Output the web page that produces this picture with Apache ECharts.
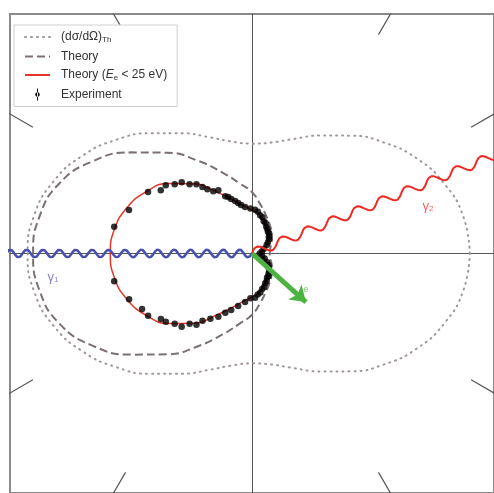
<!DOCTYPE html>
<html><head><meta charset="utf-8">
<script src="https://cdn.jsdelivr.net/npm/echarts@6/dist/echarts.min.js"></script>
<style>html,body{margin:0;padding:0;background:#fff}#c{width:494px;height:493px}</style>
</head><body><div id="c"></div>
<script>
// polar angles (deg) at which the curves are read (upper half; curves are mirror-symmetric)
const curveAngles = [0, 10, 20, 30, 40, 50, 60, 70, 80, 90, 100, 110, 120, 130, 140, 150, 160, 170, 180];
const thomsonR = [0.99, 0.975, 0.93, 0.865, 0.785, 0.70, 0.62, 0.555, 0.513, 0.5, 0.517, 0.563, 0.632, 0.715, 0.805, 0.89, 0.96, 1.005, 1.02];
const theoryR  = [0.081, 0.083, 0.09, 0.104, 0.119, 0.137, 0.158, 0.185, 0.225, 0.279, 0.324, 0.392, 0.486, 0.599, 0.716, 0.838, 0.932, 0.98, 0.995];
const lowER    = [0.032, 0.038, 0.054, 0.074, 0.095, 0.113, 0.131, 0.153, 0.18, 0.198, 0.221, 0.261, 0.324, 0.414, 0.495, 0.559, 0.606, 0.635, 0.644];

// experimental points (angle deg, radius)
const expAngle = [169, 160.5, 149.4, 145.2, 141.6, 138.1, 134.6, 132, 128.7, 126.7, 124.7, 121.8, 118, 115, 112.8, 110.9, 107.8, 105.4, 102.7, 98.5,
  92, 86, 82, 78, 74, 70, 66, 62, 58, 54, 50, 45, 40, 35, 30, 22, 12, 0, -12, -22, -30, -35, -40, -45, -50, -54, -58, -62, -66, -70, -74, -78, -82, -86, -92,
  191.4, 200.4, 206.8, 211, 215.7, 218.4, 222.3, 226.2, 228.4, 232.1, 233.7, 237.5, 242, 245.8, 249.8, 255.2, 261.9];
const expR = [0.638, 0.593, 0.549, 0.505, 0.5, 0.472, 0.455, 0.424, 0.404, 0.377, 0.356, 0.334, 0.326, 0.288, 0.279, 0.265, 0.251, 0.238, 0.226, 0.214,
  0.205, 0.2, 0.192, 0.178, 0.172, 0.156, 0.152, 0.138, 0.132, 0.123, 0.121, 0.108, 0.101, 0.088, 0.077, 0.058, 0.046, 0.035, 0.047, 0.062, 0.079, 0.092, 0.099, 0.112, 0.118, 0.127, 0.129, 0.142, 0.148, 0.162, 0.168, 0.182, 0.188, 0.202, 0.204,
  0.639, 0.596, 0.56, 0.551, 0.51, 0.5, 0.475, 0.462, 0.427, 0.411, 0.38, 0.352, 0.326, 0.296, 0.274, 0.247, 0.223];

const tickAngles = [30, 60, 120, 150, 210, 240, 300, 330];
const photonIn = {angle: 180, length: 1.2, wavelength: 0.0745, amplitude: 0.018};
const photonOut = {angle: 22, length: 1.3, wavelength: 0.122, amplitude: 0.021};
const electron = {angle: -42, length: 0.33};
const labelPos = {g1: [-0.905, -0.108], g2: [0.80, 0.216], e: [0.245, -0.165]};

const rad = d => d * Math.PI / 180;
const xy = (a, r) => [r * Math.cos(rad(a)), r * Math.sin(rad(a))];
function closedCurve(rs) {
  const pts = [];
  for (let i = 0; i < curveAngles.length; i++) pts.push(xy(curveAngles[i], rs[i]));
  for (let i = curveAngles.length - 2; i >= 0; i--) pts.push(xy(360 - curveAngles[i], rs[i]));
  return pts;
}
function wave(p) {
  const pts = [], c = Math.cos(rad(p.angle)), s = Math.sin(rad(p.angle));
  const n = Math.ceil(p.length / p.wavelength * 24);
  for (let i = 0; i <= n; i++) {
    const t = p.length * i / n;
    const off = p.amplitude * Math.sin(2 * Math.PI * t / p.wavelength);
    pts.push([t * c - off * s, t * s + off * c]);
  }
  return pts;
}
const expData = expAngle.map((a, i) => xy(a, expR[i]));
const tickData = tickAngles.map(a => ({coords: [xy(a, 1.15), xy(a, 1.4)]}));

const chart = echarts.init(document.getElementById('c'), null, {renderer: 'canvas'});
const FONT = 'Liberation Sans, Arial, sans-serif';
chart.setOption({
  animation: false,
  backgroundColor: '#fff',
  grid: {left: 10, top: 14, width: 488, height: 484, show: true, borderColor: '#8a8a8a', borderWidth: 2, backgroundColor: 'transparent'},
  xAxis: {type: 'value', min: -1.1, max: 1.1, axisLine: {onZero: true, lineStyle: {color: '#555', width: 1}},
    axisTick: {show: false}, axisLabel: {show: false}, splitLine: {show: false}},
  yAxis: {type: 'value', min: -1.09, max: 1.09, axisLine: {onZero: true, lineStyle: {color: '#555', width: 1}},
    axisTick: {show: false}, axisLabel: {show: false}, splitLine: {show: false}},
  legend: {
    orient: 'vertical', left: 14, top: 25, backgroundColor: '#fff', borderColor: '#d0d0d0', borderWidth: 1,
    padding: [6, 10, 6, 10], itemWidth: 25, itemHeight: 12, itemGap: 6.5,
    itemStyle: {opacity: 0},
    textStyle: {fontFamily: FONT, fontSize: 12, color: '#333', padding: [0, 0, 0, 6],
      rich: {sub: {fontSize: 8, color: '#333', padding: [6, 0, 0, 0], fontFamily: FONT},
             it: {fontSize: 12, fontStyle: 'italic', color: '#333', fontFamily: FONT}}},
    data: ['Th', 'Theory', 'LowE',
      {name: 'Experiment', icon: 'path://M4.4,0h1.2v16h-1.2z M5,5a3,3 0 1,0 0.01,0z', itemStyle: {opacity: 1, color: '#000'}}],
    formatter: function (n) {
      if (n === 'Th') return '(dσ/dΩ){sub|Th}';
      if (n === 'LowE') return 'Theory ({it|E}{sub|e} < 25 eV)';
      return n;
    }
  },
  series: [
    {name: 'ticks', type: 'lines', coordinateSystem: 'cartesian2d', data: tickData, silent: true,
      lineStyle: {color: '#555', width: 1.2, opacity: 1}, clip: true, z: 1},
    {name: 'Th', type: 'line', data: closedCurve(thomsonR), smooth: true, symbol: 'none',
      lineStyle: {color: '#a09696', width: 2, type: [1, 5], cap: 'round'}, itemStyle: {color: '#a09696'}, z: 2},
    {name: 'Theory', type: 'line', data: closedCurve(theoryR), smooth: true, symbol: 'none',
      lineStyle: {color: '#7d7070', width: 2, type: [8, 4]}, itemStyle: {color: '#7d7070'}, z: 2},
    {name: 'LowE', type: 'line', data: closedCurve(lowER), smooth: true, symbol: 'none',
      lineStyle: {color: '#e8352b', width: 1.5}, itemStyle: {color: '#e8352b'}, z: 3},
    {name: 'Experiment', type: 'scatter', data: expData, symbol: 'circle', symbolSize: 6.5,
      itemStyle: {color: '#000'}, z: 4},
    {name: 'γ1', type: 'line', data: wave(photonIn), symbol: 'none', clip: true,
      lineStyle: {color: '#4750b0', width: 2.5}, z: 5},
    {name: 'γ2', type: 'line', data: wave(photonOut), symbol: 'none', clip: true,
      lineStyle: {color: '#ee2b22', width: 2}, z: 5},
    {name: 'e', type: 'lines', coordinateSystem: 'cartesian2d', data: [{coords: [[0, 0], xy(electron.angle, electron.length)]}],
      symbol: ['none', 'arrow'], symbolSize: 15, lineStyle: {color: '#4cb340', width: 5, opacity: 1}, z: 6},
    {name: 'labels', type: 'scatter', symbolSize: 0, silent: true, z: 7,
      data: [
        {value: labelPos.g1, label: {show: true, position: 'inside', formatter: '{g|γ}{s|1}',
          rich: {g: {fontSize: 13, color: '#6b5cb8', fontFamily: FONT}, s: {fontSize: 8, color: '#6b5cb8', padding: [6, 0, 0, 0], fontFamily: FONT}}}},
        {value: labelPos.g2, label: {show: true, position: 'inside', formatter: '{g|γ}{s|2}',
          rich: {g: {fontSize: 13, color: '#ee3a33', fontFamily: FONT}, s: {fontSize: 8, color: '#ee3a33', padding: [6, 0, 0, 0], fontFamily: FONT}}}},
        {value: labelPos.e, label: {show: true, position: 'inside', formatter: 'e',
          fontSize: 9, color: '#5cbf4a', fontFamily: FONT}}
      ]}
  ]
});
</script></body></html>
